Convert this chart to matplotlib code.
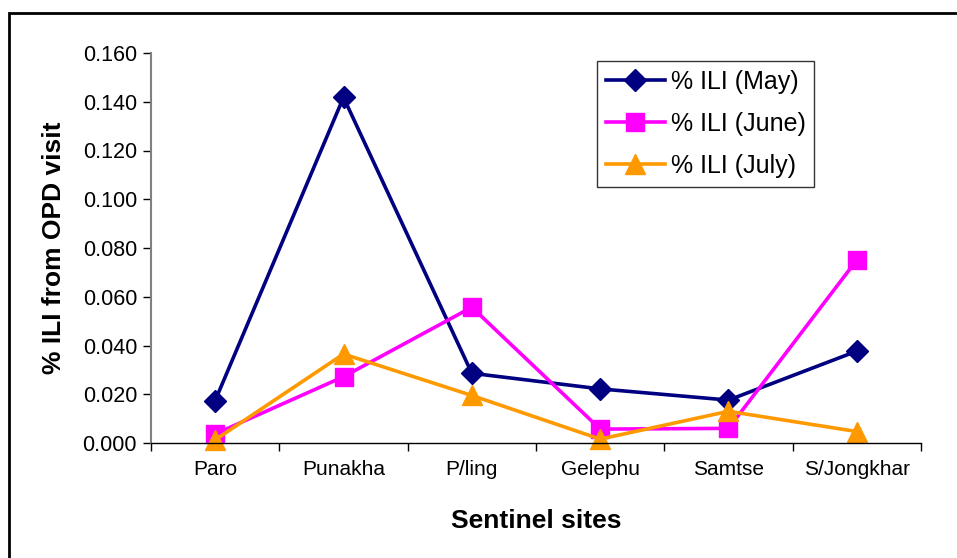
import matplotlib
matplotlib.use("Agg")
import matplotlib.pyplot as plt
from matplotlib.patches import Rectangle

plt.rcParams["font.family"] = ["Liberation Sans", "DejaVu Sans"]

# Data
sites = ["Paro", "Punakha", "P/ling", "Gelephu", "Samtse", "S/Jongkhar"]
ili_may = [0.0174, 0.1418, 0.0286, 0.0222, 0.0176, 0.0377]
ili_june = [0.0037, 0.0272, 0.0557, 0.0057, 0.0060, 0.0751]
ili_july = [0.0013, 0.0365, 0.0195, 0.0016, 0.0130, 0.0047]
yticks = [0.0, 0.02, 0.04, 0.06, 0.08, 0.10, 0.12, 0.14, 0.16]

fig = plt.figure(figsize=(9.57, 5.58), dpi=100)
ax = fig.add_axes([151 / 957, 1 - 443 / 558, (921 - 151) / 957, (443 - 53) / 558])

x = [i + 0.5 for i in range(len(sites))]
ax.plot(x, ili_may, color="#000080", lw=2.6, marker="D", ms=11.5, label="% ILI (May)", clip_on=False)
ax.plot(x, ili_june, color="#FF00FF", lw=2.6, marker="s", ms=13.5, label="% ILI (June)", clip_on=False)
ax.plot(x, ili_july, color="#FF9900", lw=2.6, marker="^", ms=15, label="% ILI (July)", clip_on=False)

ax.set_xlim(0, len(sites))
ax.set_ylim(0, 0.16)
ax.set_yticks(yticks)
ax.set_yticklabels([f"{v:.3f}" for v in yticks])
ax.set_xticks(x)
ax.set_xticklabels(sites)
ax.set_xticks(range(len(sites) + 1), minor=True)
ax.tick_params(axis="x", which="major", length=0, pad=12, labelsize=15)
ax.tick_params(axis="x", which="minor", length=6, width=1, direction="out")
ax.tick_params(axis="y", length=6, width=1, direction="out", pad=4, labelsize=15.5)

for s in ["top", "right"]:
    ax.spines[s].set_visible(False)
ax.spines["left"].set_color("#808080")
ax.spines["left"].set_linewidth(1.5)
ax.spines["bottom"].set_color("black")
ax.spines["bottom"].set_linewidth(1)

ax.set_xlabel("Sentinel sites", fontsize=19, fontweight="bold", labelpad=22)
ax.set_ylabel("% ILI from OPD visit", fontsize=19, fontweight="bold", labelpad=12)

leg = ax.legend(loc="upper left", bbox_to_anchor=(597 / 957, 1 - 61 / 558),
                bbox_transform=fig.transFigure, fontsize=18, frameon=True,
                fancybox=False, edgecolor="#333333", framealpha=1,
                handlelength=2.35, handletextpad=0.25, labelspacing=0.72,
                borderpad=0.35, borderaxespad=0)
leg.get_frame().set_linewidth(1)

# outer chart border
fig.patches.append(Rectangle((9 / 957, -0.05), 1.1, 1 - 13 / 558 + 0.05,
                             transform=fig.transFigure, fill=False,
                             edgecolor="black", lw=2, zorder=10))

fig.savefig("out.png", dpi=100)
